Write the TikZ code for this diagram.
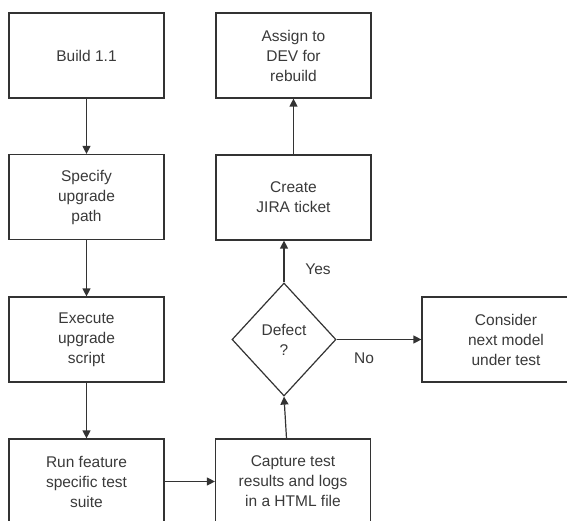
\documentclass[tikz,border=0pt]{standalone}
\usepackage{fontspec}
\setmainfont{Liberation Sans}
\usetikzlibrary{shapes.geometric,arrows.meta,calc}
\definecolor{ln}{HTML}{333333}
\definecolor{tx}{HTML}{3A3A3A}
\begin{document}
\begin{tikzpicture}[x=1pt,y=-1pt,
  box/.style={draw=ln,line width=1.2pt,minimum width=155pt,minimum height=85pt,inner sep=0pt,align=center,text=tx,font=\fontsize{15.5}{20}\selectfont},
  dec/.style={draw=ln,line width=1.2pt,diamond,minimum width=104pt,minimum height=113pt,inner sep=0pt,align=center,text=tx,font=\fontsize{15.5}{20}\selectfont},
  lbl/.style={text=tx,font=\fontsize{15.5}{20}\selectfont,inner sep=0pt},
  arr/.style={draw=ln,line width=1.2pt,-{Triangle[length=8pt,width=8pt]}}]
\useasboundingbox (0,0) rectangle (567,521);
\clip (0,0) rectangle (567,521);
\fill[white] (0,0) rectangle (567,521);
\node[box] (build) at (86.5,55.5) {Build 1.1};
\node[box] (spec) at (86.5,197) {Specify\\upgrade\\path};
\node[box] (exec) at (86.5,339.5) {Execute\\upgrade\\script};
\node[box] (run) at (86.5,481.5) {Run feature\\specific test\\suite};
\node[box] (assign) at (293.5,55.5) {Assign to\\DEV for\\rebuild};
\node[box] (create) at (293.5,197.5) {Create\\JIRA ticket};
\node[box] (cap) at (293,481.5) {Capture test\\results and logs\\in a HTML file};
\node[dec] (dia) at (284,339.5) {Defect\\?};
\node[box,minimum width=168pt] (cons) at (506,339.5) {Consider\\next model\\under test};
\node[lbl] (yes) at (318,269) {Yes};
\node[lbl] (no) at (364,358) {No};
\draw[arr] (build) -- (spec);
\draw[arr] (spec) -- (exec);
\draw[arr] (exec) -- (run);
\draw[arr] (run) -- (cap);
\draw[arr] ($(cap.north)+(-6.5,0)$) -- (dia.south);
\draw[arr] (dia.north) -- (dia.north |- create.south);
\draw[arr] (create) -- (assign);
\draw[arr] (dia.east) -- (dia.east -| cons.west);
\end{tikzpicture}
\end{document}
